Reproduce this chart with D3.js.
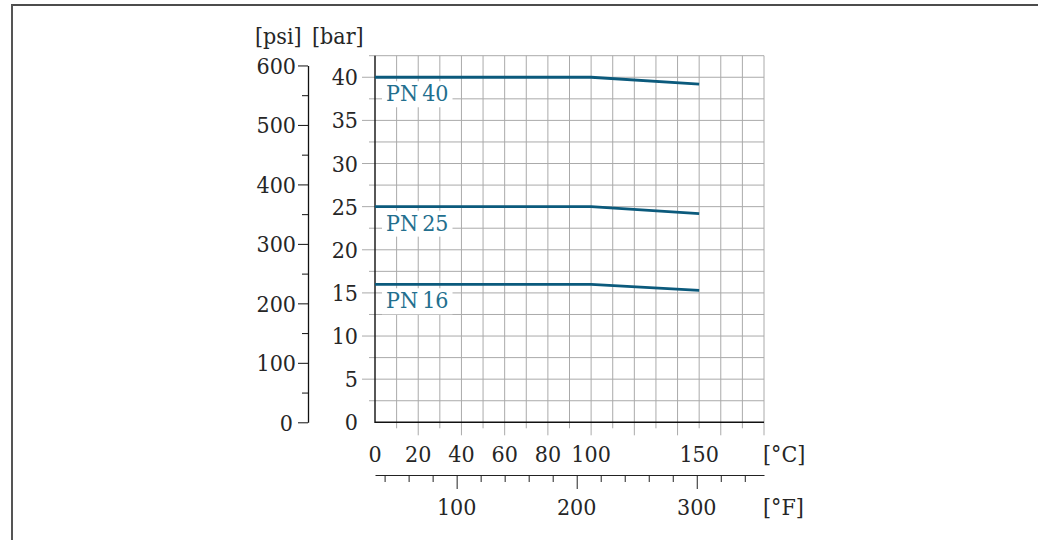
<!DOCTYPE html>
<html>
<head>
<meta charset="utf-8">
<script src="https://cdn.jsdelivr.net/npm/d3@7"></script>
<style>
body { margin: 0; background: #fff; }
svg { display: block; }
text { font-family: "DejaVu Serif Condensed", "DejaVu Serif", serif; font-stretch: condensed; font-size: 23px; fill: #262626; }
</style>
</head>
<body>
<svg id="chart" width="1038" height="540"></svg>
<script>
// data
const seriesNames = ["PN\u200940", "PN\u200925", "PN\u200916"]
const tempC = [0, 100, 150]
const pn40 = [40, 40, 39.2]
const pn25 = [25, 25, 24.2]
const pn16 = [16, 16, 15.3]
const celsiusLabels = [0, 20, 40, 60, 80, 100, 150]
const fahrenheitLabels = [100, 200, 300]
const barLabels = [0, 5, 10, 15, 20, 25, 30, 35, 40]
const psiLabels = [0, 100, 200, 300, 400, 500, 600]
const PSI_PER_BAR = 14.5038

const svg = d3.select("#chart")
const plotLeft = 375, plotRight = 764, plotTop = 55.7, plotBottom = 422.3

const x = d3.scaleLinear().domain([0, 180]).range([plotLeft, plotRight])
const y = d3.scaleLinear().domain([0, 42.5]).range([plotBottom, plotTop])
const xF = d3.scaleLinear().domain([32, 356]).range([plotLeft, plotRight])
const yPsi = d3.scaleLinear().domain([0, 600]).range([y(0), y(600 / PSI_PER_BAR)])

// frame
svg.append("line").attr("x1", 11).attr("x2", 1038).attr("y1", 5).attr("y2", 5)
    .attr("stroke", "#111").attr("stroke-width", 1.6)
svg.append("line").attr("x1", 12).attr("x2", 12).attr("y1", 4.5).attr("y2", 540)
    .attr("stroke", "#555").attr("stroke-width", 2)

// grid
const grid = svg.append("g").attr("stroke", "#aaa").attr("stroke-width", 1)
grid.selectAll(".v")
    .data(d3.range(10, 181, 10))
    .enter()
    .append("line")
    .attr("x1", d => x(d)).attr("x2", d => x(d))
    .attr("y1", y(42.5))
    .attr("y2", d => plotBottom + (d % 20 === 0 ? 13 : 6))
grid.selectAll(".h")
    .data(d3.range(2.5, 42.6, 2.5))
    .enter()
    .append("line")
    .attr("y1", d => y(d)).attr("y2", d => y(d))
    .attr("x1", d => plotLeft - (d % 5 === 0 ? 13 : 6))
    .attr("x2", plotRight)

// plot axes
svg.append("path")
    .attr("d", `M${plotLeft},${y(42.5)}V${plotBottom}H${plotRight}`)
    .attr("fill", "none").attr("stroke", "#111").attr("stroke-width", 1.4)

// label boxes + series
const lineGen = d3.line().x((d, i) => x(tempC[i])).y(d => y(d))
const seriesData = [pn40, pn25, pn16]
const labels = svg.append("g")
seriesData.forEach((vals, k) => {
    const g = labels.append("g")
    const rect = g.append("rect").attr("fill", "#fff")
    const t = g.append("text")
        .attr("x", x(0) + 11)
        .attr("y", y(vals[0]) + 24)
        .style("fill", "#236f8e")
        .text(seriesNames[k])
    const bb = t.node().getBBox()
    rect.attr("x", bb.x - 4).attr("width", bb.width + 8)
        .attr("y", y(vals[0]) + 4).attr("height", 26)
})
svg.append("g").selectAll("path")
    .data(seriesData)
    .enter()
    .append("path")
    .attr("d", d => lineGen(d))
    .attr("fill", "none")
    .attr("stroke", "#0b5a7c")
    .attr("stroke-width", 2.8)

// bar labels
svg.append("g").selectAll("text")
    .data(barLabels)
    .enter()
    .append("text")
    .attr("x", 358)
    .attr("y", d => y(d) + 8)
    .attr("text-anchor", "end")
    .text(d => d)

// psi axis
const psiAxis = d3.axisLeft(yPsi)
    .tickValues(d3.range(0, 601, 50))
    .tickSizeOuter(0)
    .tickFormat("")
const psiG = svg.append("g")
    .attr("transform", "translate(308,0)")
    .call(psiAxis)
psiG.select(".domain").attr("stroke", "#111").attr("stroke-width", 1.3)
psiG.selectAll(".tick line")
    .attr("stroke", "#111")
    .attr("x2", d => d % 100 === 0 ? -10 : -6)
svg.append("g").selectAll("text")
    .data(psiLabels)
    .enter()
    .append("text")
    .attr("x", d => d === 0 ? 293 : 296)
    .attr("y", d => yPsi(d) + 8.5)
    .attr("text-anchor", "end")
    .text(d => d)

// unit headers
svg.append("text").attr("x", 255).attr("y", 44).text("[psi]")
svg.append("text").attr("x", 312).attr("y", 44).text("[bar]")

// celsius labels
svg.append("g").selectAll("text")
    .data(celsiusLabels)
    .enter()
    .append("text")
    .attr("x", d => x(d))
    .attr("y", 462)
    .attr("text-anchor", "middle")
    .text(d => d)
svg.append("text").attr("x", 763).attr("y", 462).text("[°C]")

// fahrenheit axis
const fAxis = d3.axisBottom(xF)
    .tickValues(d3.range(40, 341, 20))
    .tickSizeOuter(0)
    .tickFormat("")
const fG = svg.append("g")
    .attr("transform", "translate(0,475)")
    .call(fAxis)
fG.select(".domain").attr("stroke", "#222").attr("stroke-width", 1.2)
fG.selectAll(".tick line")
    .attr("stroke", "#222")
    .attr("y2", d => d % 100 === 0 ? 14 : 7)
svg.append("g").selectAll("text")
    .data(fahrenheitLabels)
    .enter()
    .append("text")
    .attr("x", d => xF(d))
    .attr("y", 515)
    .attr("text-anchor", "middle")
    .text(d => d)
svg.append("text").attr("x", 763).attr("y", 515).text("[°F]")
</script>
</body>
</html>
